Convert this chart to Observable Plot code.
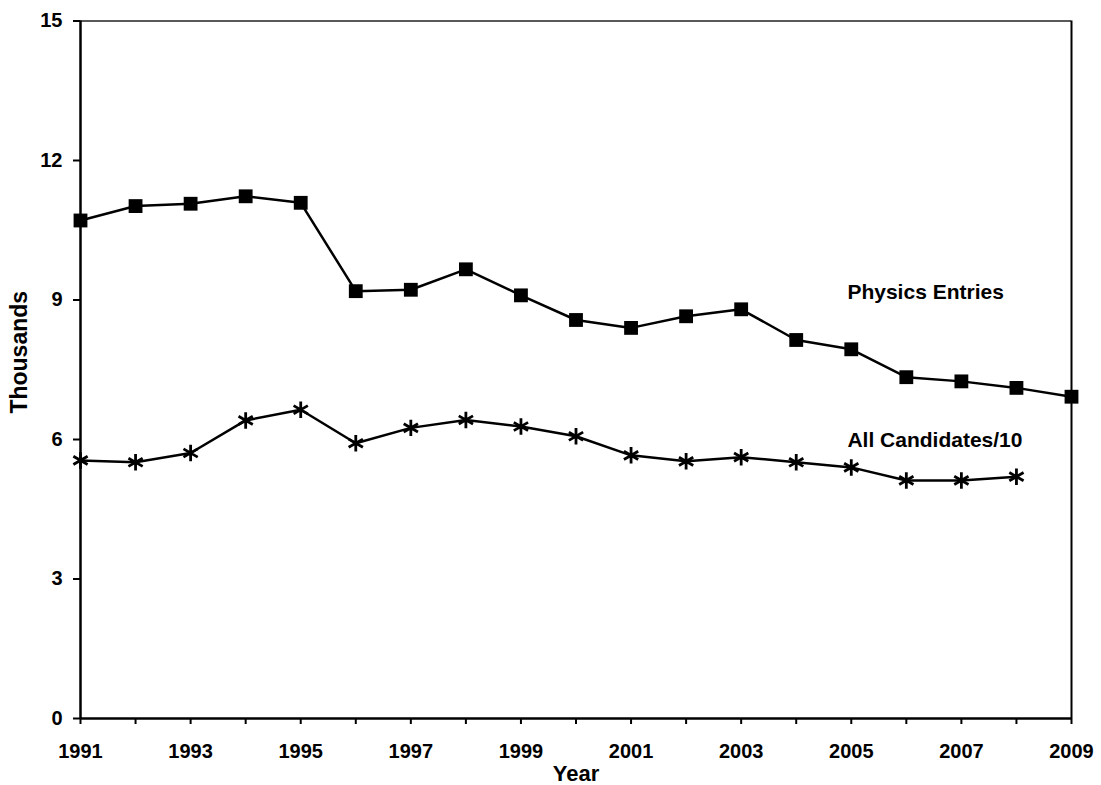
<!DOCTYPE html>
<html>
<head>
<meta charset="utf-8">
<script src="https://cdn.jsdelivr.net/npm/d3@7"></script>
<script src="https://cdn.jsdelivr.net/npm/@observablehq/plot@0.6"></script>
<style>
  html, body { margin: 0; padding: 0; background: #fff; }
  #chart { width: 1101px; height: 785px; }
</style>
</head>
<body>
<div id="chart"></div>
<script>
const years = [1991,1992,1993,1994,1995,1996,1997,1998,1999,2000,2001,2002,2003,2004,2005,2006,2007,2008,2009];
const physicsEntries = [10.71,11.02,11.07,11.23,11.09,9.19,9.22,9.66,9.10,8.57,8.40,8.65,8.80,8.14,7.94,7.34,7.25,7.11,6.92];
const allCandidatesYears = [1991,1992,1993,1994,1995,1996,1997,1998,1999,2000,2001,2002,2003,2004,2005,2006,2007,2008];
const allCandidates10 = [5.55,5.51,5.71,6.41,6.64,5.92,6.25,6.42,6.28,6.07,5.66,5.53,5.62,5.51,5.40,5.12,5.12,5.20];
const yTicks = [0,3,6,9,12,15];
const xTickLabels = [1991,1993,1995,1997,1999,2001,2003,2005,2007,2009];
const seriesLabels = [
  {name: "Physics Entries", year: 2004.93, value: 9.16},
  {name: "All Candidates/10", year: 2004.93, value: 5.98}
];

const physics = years.map((y, i) => ({year: y, value: physicsEntries[i]}));
const allCand = allCandidatesYears.map((y, i) => ({year: y, value: allCandidates10[i]}));

const font = "'Liberation Sans', Arial, Helvetica, sans-serif";

const chart = Plot.plot({
  width: 1101,
  height: 785,
  marginLeft: 80,
  marginRight: 30,
  marginTop: 20.5,
  marginBottom: 67,
  style: {fontFamily: font, fontWeight: "bold", fontSize: "20px", color: "#000", background: "#fff"},
  x: {domain: [1991, 2009]},
  y: {domain: [0, 15]},
  marks: [
    Plot.axisX({ticks: years, tickFormat: d => xTickLabels.includes(d) ? String(d) : "", tickSize: 6, tickPadding: 19, strokeWidth: 2, label: null, fontSize: 20}),
    Plot.axisY({ticks: yTicks, tickSize: 7, tickPadding: 11, strokeWidth: 2, label: null, fontSize: 20}),
    Plot.ruleY([15], {stroke: "#222", strokeWidth: 1.5}),
    Plot.ruleX([2009], {stroke: "#000", strokeWidth: 2}),
    Plot.ruleX([1991], {stroke: "#000", strokeWidth: 2.5}),
    Plot.ruleY([0], {stroke: "#000", strokeWidth: 2.5}),
    Plot.line(physics, {x: "year", y: "value", stroke: "#000", strokeWidth: 2.5}),
    Plot.line(allCand, {x: "year", y: "value", stroke: "#000", strokeWidth: 2.5}),
    Plot.dot(physics, {x: "year", y: "value", symbol: "square", fill: "#000", r: 7.8}),
    Plot.dot(allCand, {x: "year", y: "value", symbol: "asterisk", stroke: "#000", strokeWidth: 2.8, r: 7.8}),
    Plot.text(seriesLabels, {x: "year", y: "value", text: "name", textAnchor: "start", fontSize: 21, fontWeight: "bold", fill: "#000"}),
    Plot.text(["Thousands"], {frameAnchor: "left", rotate: -90, dx: -61, dy: -17.5, textAnchor: "middle", lineAnchor: "middle", fontSize: 23, fontWeight: "bold", fill: "#000"}),
    Plot.text(["Year"], {frameAnchor: "bottom", dy: 55, textAnchor: "middle", lineAnchor: "middle", fontSize: 22, fontWeight: "bold", fill: "#000"})
  ]
});
document.getElementById("chart").appendChild(chart);
</script>
</body>
</html>
